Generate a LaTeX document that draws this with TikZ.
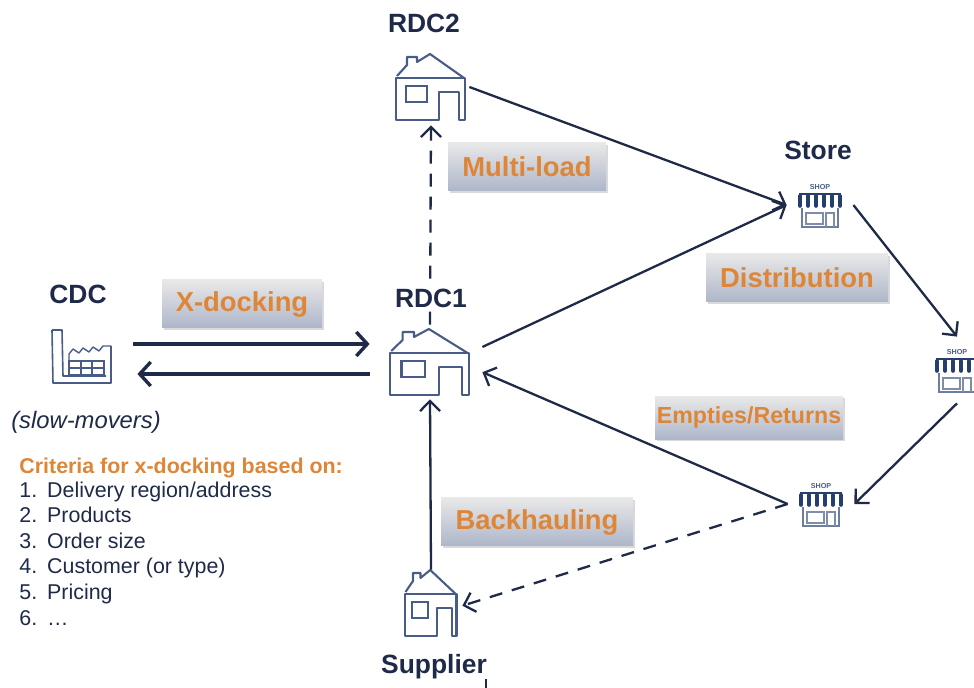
\documentclass[tikz,border=0pt]{standalone}
\usepackage{fontspec}
\setmainfont{Liberation Sans}
\usepackage{xcolor}
\usepackage{tikz}
\usetikzlibrary{arrows.meta, shadows, positioning}
\definecolor{navy}{RGB}{31, 42, 72}
\definecolor{iconblue}{RGB}{72, 92, 135}
\definecolor{stripeblue}{RGB}{38, 62, 110}
\definecolor{labelorange}{RGB}{222, 134, 56}
\tikzset{
    textnode/.style = {draw=none, fill=none, rectangle, minimum size=0cm, inner sep = 0em, 
      node distance=0em, text=navy, font=\fontsize{13.2}{15}\selectfont\bfseries},
    listnode/.style = {textnode, font=\fontsize{10.7}{12.8}\selectfont},
    iconnode/.style = {draw=none, rectangle, inner sep = 0em, node distance=0em},
    labelnode/.style = {rectangle, inner sep = 0em, node distance=0em, minimum height=2.4em,
      top color=gray!18, bottom color=iconblue!45, text=labelorange, 
      drop shadow={shadow xshift=0.1em, shadow yshift=-0.1em, opacity=0.3},
      font=\fontsize{13.7}{16}\selectfont\bfseries},
    connect/.style = {navy, line width=1.15pt, -{Straight Barb[length=0.5em, width=1em]}},
    dashconnect/.style = {connect, dash pattern=on 0.65em off 0.5em},
    thickconnect/.style = {navy, line width=1.7pt, -{Straight Barb[length=0.55em, width=1.2em]}},
    housepic/.pic = {
        \draw [iconblue, line width=1.05pt, line join=round] (-34,-11) -- (-24,-22) -- (-24,-30) -- (-14,-30) -- (-14,-25) 
            -- (-1,-33) -- (33,-9);
        \draw [iconblue, line width=1.05pt, line join=round] (-35,-9) -- (34,-9) -- (34,33) -- (28,33) -- (28,5) -- (8,5) 
            -- (8,33) -- (-35,33) -- cycle;
        \draw [iconblue, line width=1.05pt] (-25,-1) rectangle (-4,15);
    },
    shoppic/.pic = {
        \node (word) [iconnode, text=iconblue, font=\fontsize{3.6}{4}\selectfont\bfseries] at (0,-18) {SHOP};
        \foreach \i in {-20,-12,-4,4,12,20} {
            \draw [stripeblue, line width=1.8pt, line cap=round] (\i,-9) -- (\i,1);
        }
        \draw [stripeblue, line width=0.6pt] (-21,-11) -- (21,-11);
        \draw [iconblue!80, line width=0.8pt] (-18,3) -- (-18,22) -- (18,22) -- (18,3);
        \draw [iconblue!70, line width=0.6pt] (-14,8) rectangle (3,19);
        \draw [iconblue!70, line width=0.6pt] (6,22) -- (6,8) -- (14,8) -- (14,22);
    },
    factorypic/.pic = {
        \draw [iconblue, line width=0.8pt, line join=round] (-30,-27) -- (-20,-27) -- (-19,19) -- (24,19);
        \draw [iconblue, line width=0.8pt, line join=round] (-30,-27) -- (-29,26) -- (29,26) -- (29,-11);
        \draw [iconblue, line width=0.7pt, line join=round] (-13,18) -- (-13,-3) -- (-9,-8) -- (-3,-4) -- (1,-9) -- (7,-5) 
            -- (11,-10) -- (17,-6) -- (21,-11) -- (29,-11);
        \draw [iconblue, line width=0.7pt] (-13,4) rectangle (22,18);
        \draw [iconblue, line width=0.7pt] (-13,11) -- (22,11) (-1,4) -- (-1,18) (10,4) -- (10,18);
    }
}

\begin{document}
\begin{tikzpicture}[x=0.5pt, y=-0.5pt]
    \useasboundingbox (0,0) rectangle (974,688);

    % icon boxes
    \node [name=RDC1, iconnode, minimum width=5.2em, minimum height=3.7em] at (430,362) {};
    \node [name=RDC2, iconnode, minimum width=3.8em, minimum height=3.8em, above of = RDC1, 
        xshift=0.05em, yshift=13.75em] {};
    \node [name=Supplier, iconnode, minimum width=3.1em, minimum height=3.3em, below of = RDC1, 
        xshift=0.05em, yshift=-12.05em] {};
    \node [name=CDC, iconnode, minimum width=5.1em, minimum height=3em, left of = RDC1, 
        xshift=-17.4em, yshift=0.25em] {};
    \node [name=Store, iconnode, minimum width=3.3em, minimum height=3.3em, right of = RDC1, 
        xshift=19.5em, yshift=7.85em] {};
    \node [name=StoreB, iconnode, minimum width=3.3em, minimum height=3.3em, right of = Store, 
        xshift=6.85em, yshift=-8.25em] {};
    \node [name=StoreC, iconnode, minimum width=3.3em, minimum height=3.3em, below of = StoreB, 
        xshift=-6.8em, yshift=-6.7em] {};

    \pic [xscale=1.0] at (RDC2) {housepic};
    \pic [xscale=1.14] at (RDC1) {housepic};
    \pic [xscale=0.75] at (Supplier) {housepic};
    \pic at (CDC) {factorypic};
    \pic (storeA) at (Store) {shoppic};
    \pic (storeB) at (StoreB) {shoppic};
    \pic (storeC) at (StoreC) {shoppic};

    % connectors
    \draw [thickconnect, shorten >=0.4em] ([yshift=0.65em]CDC.east) -- ([yshift=0.9em]RDC1.west);
    \draw [thickconnect, shorten <=0.4em, shorten >=0.2em] ([yshift=-0.6em]RDC1.west) -- ([yshift=-0.85em]CDC.east);
    \draw [dashconnect] (RDC1.north) -- (RDC2.south);
    \draw [connect] (RDC2.east) -- (Store.west);
    \draw [connect] (RDC1.16) -- (Store.west);
    \draw [connect] (Store.east) -- (StoreB.north);
    \draw [connect] (StoreB.south) -- (StoreC.east);
    \draw [connect] (StoreC.west) -- (RDC1.-11);
    \draw [dashconnect] (StoreC.west) -- (Supplier.-5);
    \draw [connect] (Supplier.north) -- (RDC1.south);

    % names
    \node [name=RDC2text, textnode, above of = RDC2, xshift=-0.35em, yshift=3.2em] {RDC2};
    \node [name=RDC1text, textnode, fill=white, inner sep=0.1em, above of = RDC1, xshift=0.05em, yshift=3.2em] {RDC1};
    \node [name=Storetext, textnode, above of = Store, xshift=-0.1em, yshift=2.75em] {Store};
    \node [name=CDCtext, textnode, above of = CDC, xshift=-0.2em, yshift=3.15em] {CDC};
    \node [name=Suppliertext, textnode, below of = Supplier, xshift=0.15em, yshift=-3.2em] {Supplier};
    \node [name=SlowMovers, listnode, below of = CDC, xshift=0.2em, yshift=-3.25em, 
        font=\fontsize{11.9}{14}\selectfont\itshape] {(slow-movers)};

    % orange labels
    \node [name=Xdocking, labelnode, minimum width=8em, left of = RDC1, xshift=-9.4em, yshift=2.9em] {X-docking};
    \node [name=Multiload, labelnode, minimum width=7.9em, right of = RDC1, xshift=4.85em, yshift=9.75em] {Multi-load};
    \node [name=Distribution, labelnode, minimum width=9.1em, below of = Store, xshift=-1.15em, yshift=-3.65em] {Distribution};
    \node [name=Empties, labelnode, minimum width=9.4em, minimum height=2.15em, above of = StoreC, xshift=-3.6em, yshift=4.3em, 
        font=\fontsize{11.6}{14}\selectfont\bfseries] {Empties/Returns};
    \node [name=Backhauling, labelnode, minimum width=9.6em, right of = Supplier, xshift=5.3em, yshift=4.05em] {Backhauling};

    % criteria list
    \node [name=Criteria, listnode, below of = SlowMovers, anchor=west, xshift=-3.35em, yshift=-2.3em, text=labelorange, 
        font=\fontsize{10.7}{12.8}\selectfont\bfseries] {Criteria for x-docking based on:};
    \node [name=CriteriaList, listnode, below of = SlowMovers, anchor=west, xshift=-3.35em, yshift=-6.7em] {%
        \renewcommand{\arraystretch}{1.0}%
        \begin{tabular}{@{}p{1.3em}@{}l@{}}
        1. & Delivery region/address\\
        2. & Products\\
        3. & Order size\\
        4. & Customer (or type)\\
        5. & Pricing\\
        6. & \dots
        \end{tabular}};

    % stray tick under the supplier name
    \coordinate (TickTop) at (486,679);
    \coordinate (TickEnd) at (486,688);
    \draw [navy, line width=0.8pt] (TickTop) -- (TickEnd);
\end{tikzpicture}
\end{document}
